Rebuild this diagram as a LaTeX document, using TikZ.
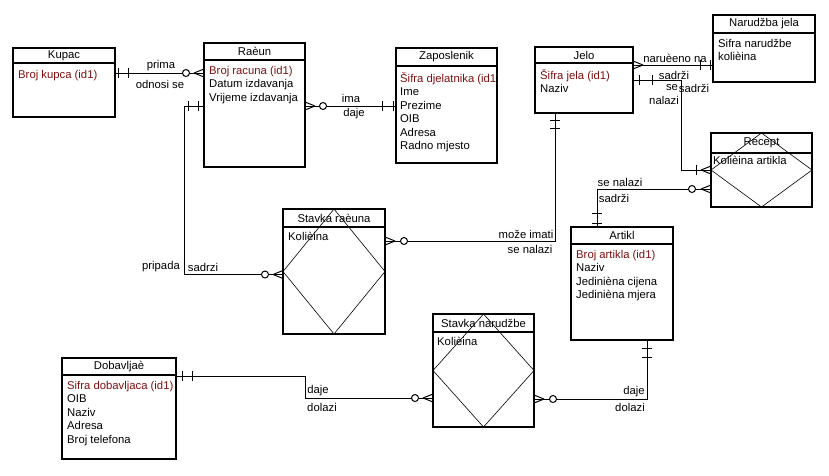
\documentclass[tikz,border=0pt]{standalone}
\usepackage{fontspec}
\setmainfont{Liberation Sans}
\usetikzlibrary{positioning,calc,decorations.markings}
\definecolor{keyred}{RGB}{128,16,16}

\begin{document}
\begin{tikzpicture}[x=1pt, y=-1pt,
  every node/.style={font=\fontsize{11.3}{13.5}\selectfont},
  entity/.style={draw, line width=2pt, anchor=north west, inner sep=0pt, outer sep=0pt},
  etitle/.style={anchor=north, inner sep=0pt, outer sep=0pt},
  attr/.style={anchor=north west, align=left, inner sep=0pt},
  sepline/.style={line width=2pt},
  diam/.style={line width=0.6pt},
  conn/.style={line width=1pt},
  lbl/.style={inner sep=0pt},
  bartick/.style={postaction={decorate, decoration={markings,
    mark=at position #1 with {\draw[line width=1pt] (0,-5) -- (0,5);}}}},
  ringat/.style={postaction={decorate, decoration={markings,
    mark=at position #1 with {\draw[line width=1pt, fill=white] (0,0) circle[radius=3.5];}}}},
  crowstart/.style={postaction={decorate, decoration={markings,
    mark=at position 10pt with {\draw[line width=1pt] (0,0) -- (-10,-4) (0,0) -- (-10,4);}}}},
  crowend/.style={postaction={decorate, decoration={markings,
    mark=at position -10pt with {\draw[line width=1pt] (0,0) -- (10,-4) (0,0) -- (10,4);}}}}
]
\fill[white] (0,0) rectangle (829,475);
\useasboundingbox (0,0) rectangle (829,475);

% entities
\node[entity, minimum width=102, minimum height=69] (kupac) at (13,48) {};
\node[etitle, minimum width=102, minimum height=15] (kupacT) at (kupac.north) {Kupac};
\draw[sepline] (kupacT.south west) -- (kupacT.south east);
\node[attr] (kupacA) at ($(kupacT.south west)+(5,7)$) {\color{keyred}Broj kupca (id1)};

\node[entity, minimum width=101, minimum height=124] (racun) at (204,43) {};
\node[etitle, minimum width=101, minimum height=17] (racunT) at (racun.north) {Raèun};
\draw[sepline] (racunT.south west) -- (racunT.south east);
\node[attr] (racunA) at ($(racunT.south west)+(5,6)$) {\color{keyred}Broj racuna (id1)\\Datum izdavanja\\Vrijeme izdavanja};

\node[entity, minimum width=101, minimum height=115] (zap) at (396,48) {};
\node[etitle, minimum width=101, minimum height=18] (zapT) at (zap.north) {Zaposlenik};
\draw[sepline] (zapT.south west) -- (zapT.south east);
\begin{scope}
  \clip (zap.north west) rectangle (zap.south east);
  \node[attr] (zapA) at ($(zapT.south west)+(4,6)$) {\color{keyred}Šifra djelatnika (id1)\\Ime\\Prezime\\OIB\\Adresa\\Radno mjesto};
\end{scope}

\node[entity, minimum width=98, minimum height=66] (jelo) at (535,47) {};
\node[etitle, minimum width=98, minimum height=16] (jeloT) at (jelo.north) {Jelo};
\draw[sepline] (jeloT.south west) -- (jeloT.south east);
\node[attr] (jeloA) at ($(jeloT.south west)+(5,6)$) {\color{keyred}Šifra jela (id1)\\Naziv};

\node[entity, minimum width=102, minimum height=67] (nar) at (713,15) {};
\node[etitle, minimum width=102, minimum height=18] (narT) at (nar.north) {Narudžba jela};
\draw[sepline] (narT.south west) -- (narT.south east);
\node[attr] (narA) at ($(narT.south west)+(5,6)$) {Sifra narudžbe\\kolièina};

\node[entity, minimum width=101, minimum height=74] (recept) at (711,133) {};
\node[etitle, minimum width=101, minimum height=20] (receptT) at (recept.north) {Recept};
\draw[sepline] (receptT.south west) -- (receptT.south east);
\node[attr] (receptA) at ($(receptT.south west)+(2,3)$) {Kolièina artikla};
\draw[diam] (recept.north) -- (recept.east) -- (recept.south) -- (recept.west) -- cycle;

\node[entity, minimum width=102, minimum height=113] (artikl) at (571,227) {};
\node[etitle, minimum width=102, minimum height=17] (artiklT) at (artikl.north) {Artikl};
\draw[sepline] (artiklT.south west) -- (artiklT.south east);
\node[attr] (artiklA) at ($(artiklT.south west)+(5,6)$) {\color{keyred}Broj artikla (id1)\\Naziv\\Jedinièna cijena\\Jedinièna mjera};

\node[entity, minimum width=102, minimum height=125] (sr) at (283,209) {};
\node[etitle, minimum width=102, minimum height=18] (srT) at (sr.north) {Stavka raèuna};
\draw[sepline] (srT.south west) -- (srT.south east);
\node[attr] (srA) at ($(srT.south west)+(5,5)$) {Kolièina};
\draw[diam] (sr.north) -- (sr.east) -- (sr.south) -- (sr.west) -- cycle;

\node[entity, minimum width=101, minimum height=113] (sn) at (433,314) {};
\node[etitle, minimum width=101, minimum height=18] (snT) at (sn.north) {Stavka narudžbe};
\draw[sepline] (snT.south west) -- (snT.south east);
\node[attr] (snA) at ($(snT.south west)+(4,5)$) {Kolièina};
\draw[diam] (sn.north) -- (sn.east) -- (sn.south) -- (sn.west) -- cycle;

\node[entity, minimum width=114, minimum height=101] (dob) at (62,358) {};
\node[etitle, minimum width=114, minimum height=17] (dobT) at (dob.north) {Dobavljaè};
\draw[sepline] (dobT.south west) -- (dobT.south east);
\node[attr] (dobA) at ($(dobT.south west)+(5,6)$) {\color{keyred}Sifra dobavljaca (id1)\\OIB\\Naziv\\Adresa\\Broj telefona};

% relationship end points
\coordinate (k1) at ($(kupac.north east)+(0,25)$);
\coordinate (r1) at ($(racun.north east)+(0,63)$);
\coordinate (r2) at ($(racun.north west)+(0,63)$);
\coordinate (s1) at ($(sr.west)+(0,3)$);
\coordinate (s2) at ($(sr.north east)+(0,32)$);
\coordinate (j1) at ($(jelo.south west)+(20,0)$);
\coordinate (j2) at ($(jelo.north east)+(0,18)$);
\coordinate (j3) at ($(jelo.north east)+(0,33)$);
\coordinate (re1) at ($(recept.north west)+(0,56)$);
\coordinate (a1) at ($(artikl.north west)+(26,0)$);
\coordinate (a2) at ($(artikl.south west)+(76,0)$);
\coordinate (d1) at ($(dob.north east)+(0,18)$);
\coordinate (n1) at ($(sn.north west)+(0,84)$);
\coordinate (n2) at ($(sn.north east)+(0,85)$);

% relationships
\draw[conn, bartick=3pt, bartick=13pt, crowend, ringat=-18pt] (k1) -- (k1 -| racun.west);
\draw[conn, crowstart, ringat=18pt, bartick=-14pt, bartick=-3pt] (r1) -- (r1 -| zap.west);
\draw[conn, bartick=6pt, bartick=16pt, crowend, ringat=-18pt] (r2) -- ++(-20,0) |- (s1);
\draw[conn, bartick=7pt, bartick=15pt, crowend, ringat=-19pt] (j1) |- (s2);
\draw[conn, crowstart, bartick=-13pt, bartick=-3pt] (j2) -- (j2 -| nar.west);
\draw[conn, bartick=6pt, bartick=19pt, bartick=-15pt, crowend] (j3) -- ++(48,0) |- (recept.west);
\draw[conn, bartick=4pt, bartick=14pt, crowend, ringat=-19pt] (a1) |- (re1);
\draw[conn, bartick=6pt, bartick=16pt, crowend, ringat=-18pt] (d1) -- ++(129,0) |- (n1);
\draw[conn, bartick=8pt, bartick=17pt, crowend, ringat=-19pt] (a2) |- (n2);

% labels
\node[lbl] (l1) at (161,66) {prima};
\node[lbl] (l2) at (160,84) {odnosi se};
\node[lbl] (l3) at (351,98) {ima};
\node[lbl] (l4) at (354,114) {daje};
\node[lbl] (l5) at (675,58) {naruèeno na};
\node[lbl] (l6) at (674,75) {sadrži};
\node[lbl] (l7) at (672,88) {se};
\node[lbl] (l8) at (694,88) {sadrži};
\node[lbl] (l9) at (664,100) {nalazi};
\node[lbl] (l10) at (620,182) {se nalazi};
\node[lbl] (l11) at (614,198) {sadrži};
\node[lbl] (l12) at (526,234) {može imati};
\node[lbl] (l13) at (530,249) {se nalazi};
\node[lbl] (l14) at (161,267) {pripada};
\node[lbl] (l15) at (203,267) {sadrzi};
\node[lbl] (l16) at (318,391) {daje};
\node[lbl] (l17) at (322,407) {dolazi};
\node[lbl] (l18) at (634,392) {daje};
\node[lbl] (l19) at (630,407) {dolazi};
\end{tikzpicture}
\end{document}
